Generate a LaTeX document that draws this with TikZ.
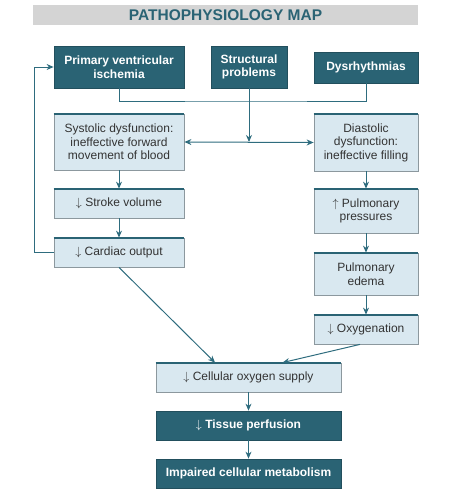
\documentclass[tikz,border=0pt]{standalone}
\usepackage{fontspec}
\setmainfont{Liberation Sans}
\usetikzlibrary{arrows.meta}
\definecolor{teal1}{RGB}{42,99,116}
\definecolor{lightfill}{RGB}{217,232,240}
\definecolor{lightedge}{RGB}{140,152,158}
\definecolor{titlegray}{RGB}{212,212,212}
\definecolor{linecol}{RGB}{46,108,126}
\newcommand{\dnarr}{\ensuremath{\downarrow}}
\newcommand{\uparr}{\ensuremath{\uparrow}}
\begin{document}
\begin{tikzpicture}[x=1pt,y=-1pt,
  darkbox/.style={draw=teal1!80!black,line width=0.8pt,fill=teal1,text=white,font=\bfseries\fontsize{12}{13.5}\selectfont,align=center,inner sep=0pt},
  lightbox/.style={draw=lightedge,line width=0.8pt,fill=lightfill,text=black!80,font=\fontsize{12}{13.5}\selectfont,align=center,inner sep=0pt},
  topbar/.style={draw=teal1,line width=2pt},
  conn/.style={draw=linecol,line width=1pt},
  arr/.style={conn,-{Stealth[length=7pt,width=6pt]}},
  darr/.style={conn,{Stealth[length=7pt,width=6pt]}-{Stealth[length=7pt,width=6pt]}}
]
\useasboundingbox (0,0) rectangle (474,496);
% title
\node[fill=titlegray,minimum width=385pt,minimum height=20pt,inner sep=0pt,text=teal1,font=\bfseries\fontsize{15.5}{17}\selectfont] (title) at (225.5,15) {PATHOPHYSIOLOGY MAP};
% top row
\node[darkbox,minimum width=130pt,minimum height=42pt] (prim) at (119,67) {Primary ventricular\\ischemia};
\node[darkbox,minimum width=76pt,minimum height=42pt] (str) at (249,67) {Structural\\problems};
\node[darkbox,minimum width=104pt,minimum height=31pt] (dys) at (366,67.5) {Dysrhythmias};
% left column
\node[lightbox,minimum width=130pt,minimum height=56pt] (sys) at (119,142) {Systolic dysfunction:\\ineffective forward\\movement of blood};
\node[lightbox,minimum width=130pt,minimum height=29pt] (sv) at (119,203.5) {\dnarr\ Stroke volume};
\node[lightbox,minimum width=130pt,minimum height=29pt] (co) at (119,252.5) {\dnarr\ Cardiac output};
% right column
\node[lightbox,minimum width=104pt,minimum height=57pt] (dia) at (366,142.5) {Diastolic\\dysfunction:\\ineffective filling};
\node[lightbox,minimum width=104pt,minimum height=44pt] (pp) at (366,211) {\uparr\ Pulmonary\\pressures};
\node[lightbox,minimum width=104pt,minimum height=42pt] (pe) at (366,274) {Pulmonary\\edema};
\node[lightbox,minimum width=104pt,minimum height=29pt] (oxy) at (366,329.5) {\dnarr\ Oxygenation};
% bottom
\node[lightbox,minimum width=185pt,minimum height=29pt] (cell) at (248.5,377.5) {\dnarr\ Cellular oxygen supply};
\node[darkbox,minimum width=185pt,minimum height=29pt] (tis) at (248.5,425.5) {\dnarr\ Tissue perfusion};
\node[darkbox,minimum width=185pt,minimum height=29pt] (imp) at (248.5,473.5) {Impaired cellular metabolism};
% top bars of light boxes
\foreach \n in {sys,sv,co,dia,pp,pe,oxy,cell}
  \draw[topbar] (\n.north west) -- (\n.north east);
% connectors
\coordinate (join) at (249,101);
\coordinate (split) at (249,142);
\draw[conn] (prim.south) |- (join) -| (dys.south);
\draw[arr] (str.south) -- (split);
\draw[darr] (sys.east) -- (dia.west);
\draw[arr] (sys.south) -- (sv.north);
\draw[arr] (sv.south) -- (co.north);
\draw[arr] (co.west) -- ++(-19,0) |- (prim.west);
\draw[arr] (dia.south) -- (pp.north);
\draw[arr] (pp.south) -- (pe.north);
\draw[arr] (pe.south) -- (oxy.north);
\draw[arr] (co.south) -- ([xshift=-33.5pt]cell.north);
\draw[arr] ([xshift=-6pt]oxy.south) -- ([xshift=34pt]cell.north);
\draw[arr] (cell.south) -- (tis.north);
\draw[arr] (tis.south) -- (imp.north);
\end{tikzpicture}
\end{document}
